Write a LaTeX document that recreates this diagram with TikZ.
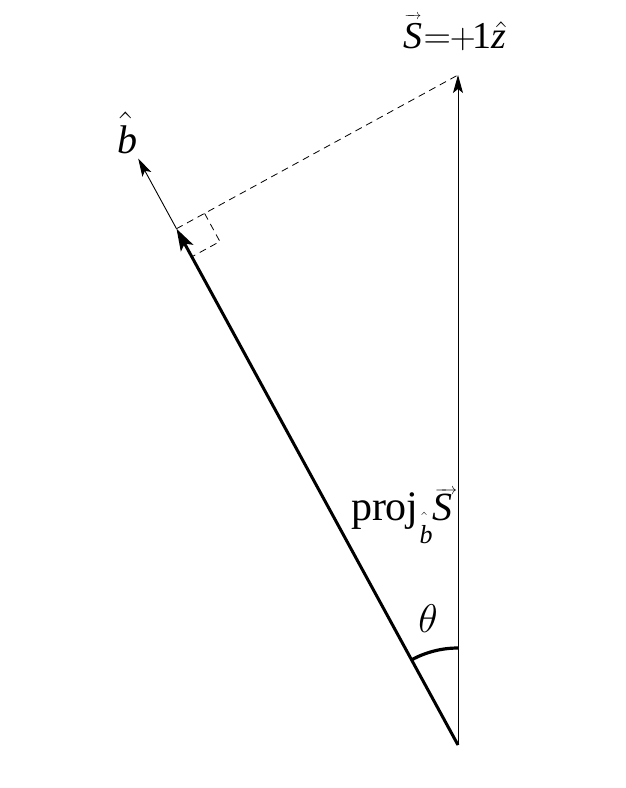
\RequirePackage{fix-cm}
\documentclass[tikz,border=0pt]{standalone}
\usepackage{fontspec}
\setmainfont{Liberation Serif}
\usetikzlibrary{arrows.meta}
% #1 x shift (twice the offset), #2 raise, #3 mark, #4 base
\newcommand\overmark[4]{\setbox0\hbox{#4}\rlap{\hbox to \wd0{\hss\kern#1\raisebox{#2}{#3}\hss}}\box0}
\newcommand\cmhat[1]{{\fontsize{#1}{#1}\usefont{OT1}{cmr}{m}{n}\char"5E}}
\newcommand\smallarrow[2]{\hbox to #1{\fontsize{#2}{#2}\selectfont\rightarrowfill}}
\newcommand\cmsym[2]{{\fontsize{#1}{#1}\selectfont$#2$}}
\tikzset{
  thinvec/.style={line width=0.9pt,-{Stealth[length=18pt,width=10pt,inset=4pt]}},
  thickvec/.style={line width=3pt,-{Stealth[length=22pt,width=14pt,inset=5pt]}},
  guide/.style={line width=0.8pt,dash pattern=on 7pt off 5pt},
  anglearc/.style={line width=3.2pt},
  lab/.style={inner sep=0pt,outer sep=0pt}
}
\begin{document}
\begin{tikzpicture}[x=1pt,y=-1pt]
\useasboundingbox (0,0) rectangle (626,788);
\coordinate (O) at (458,745);
\coordinate (S) at (458,75);
\coordinate (P) at (176.5,228.7);
\coordinate (B) at (138.2,158.5);
\coordinate (Q1) at (204.6,213.4);
\coordinate (Q2) at (219.9,241.5);
\coordinate (Q3) at (191.8,256.8);
\draw[thinvec] (O) -- (S);
\draw[thinvec] (P) -- (B);
\draw[guide] (P) -- (S);
\draw[guide] (Q1) -- (Q2) -- (Q3);
\draw[thickvec] (O) -- (P);
\draw[anglearc] (O) ++(-90:97) arc[start angle=-90,end angle=-118.6,radius=97];
\node[lab,anchor=base west,font=\fontsize{38}{38}\selectfont] (slab) at (403,48.5)
  {\overmark{1pt}{29.5pt}{\smallarrow{17pt}{14}}{\itshape S}\kern1.5pt\cmsym{38}{=}\kern-1pt\cmsym{36}{+}\kern-3pt 1\overmark{4pt}{-1pt}{\cmhat{40}}{\itshape z}};
\node[lab,anchor=base,font=\fontsize{40}{40}\selectfont] (blab) at (127,153)
  {\overmark{-3pt}{9pt}{\cmhat{47}}{\itshape b}};
\node[lab,anchor=base west,font=\fontsize{42}{42}\selectfont] (plab) at (351,520)
  {proj\kern1pt\raisebox{-23pt}{\fontsize{26}{26}\selectfont\overmark{-4pt}{15.5pt}{\cmhat{22}}{\itshape b}}{\fontsize{40}{40}\selectfont\overmark{7pt}{26pt}{\smallarrow{22pt}{16}}{\itshape S}}};
\node[lab,anchor=base,font=\fontsize{40}{40}\selectfont] (tlab) at (428,632) {$\theta$};
\end{tikzpicture}
\end{document}
